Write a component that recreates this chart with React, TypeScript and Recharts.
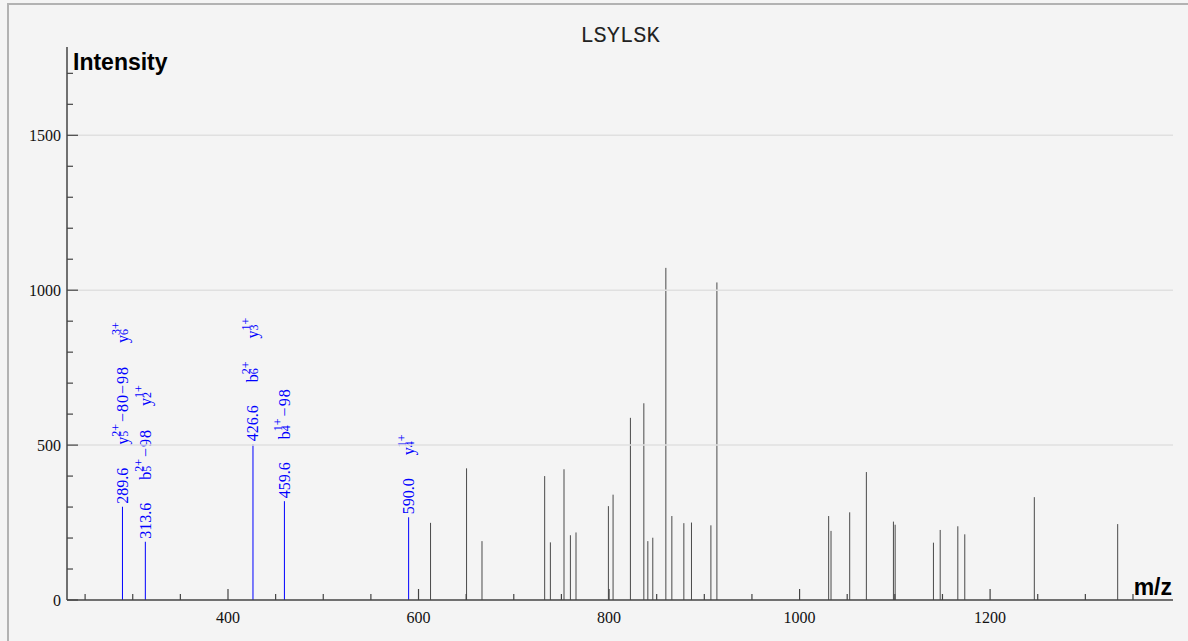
import React from 'react';
import { ComposedChart, Bar, XAxis, YAxis, ReferenceLine } from 'recharts';

// unmatched peaks (m/z, intensity)
const peakMz = [
  613.0, 650.8, 667.0, 732.8, 738.8, 753.1, 759.8, 765.7, 799.7, 804.6, 822.8,
  836.9, 841.1, 846.3, 860.0, 866.3, 878.9, 886.9, 907.3, 913.6, 1030.9, 1033.4,
  1053.0, 1070.5, 1098.9, 1100.7, 1140.9, 1148.0, 1166.5, 1173.8, 1246.8, 1334.3,
];
const peakIntensity = [
  249, 425, 190, 400, 186, 422, 209, 218, 303, 340, 588,
  635, 190, 201, 1072, 271, 248, 250, 241, 1025, 271, 223,
  283, 413, 253, 243, 185, 226, 238, 212, 332, 245,
];

// annotated fragment ions
const ionMz = [289.6, 313.6, 426.6, 459.6, 590.0];
const ionIntensity = [301, 188, 503, 319, 267];
// [ion, subscript, superscript, neutral loss], listed bottom to top
const ionLabels: string[][][] = [
  [['y', '5', '2+', '\u221280\u221298'], ['y', '6', '3+', '']],
  [['b', '5', '2+', '\u221298'], ['y', '2', '1+', '']],
  [['b', '6', '2+', ''], ['y', '3', '1+', '']],
  [['b', '4', '1+', '\u221298']],
  [['y', '4', '1+', '']],
];

const xTicks = [
  250, 300, 350, 400, 450, 500, 550, 600, 650, 700, 750, 800, 850, 900, 950,
  1000, 1050, 1100, 1150, 1200, 1250, 1300, 1350,
];
const xLabelTicks = [400, 600, 800, 1000, 1200];
const yTicks = [0, 100, 200, 300, 400, 500, 600, 700, 800, 900, 1000, 1100, 1200, 1300, 1400, 1500, 1600, 1700];
const yLabelTicks = [0, 500, 1000, 1500];
const gridValues = [500, 1000, 1500];

const data = [
  ...peakMz.map((mz, i) => ({ mz, intensity: peakIntensity[i], ann: -1 })),
  ...ionMz.map((mz, i) => ({ mz, intensity: ionIntensity[i], ann: i })),
].sort((a, b) => a.mz - b.mz);

const SERIF = '"Liberation Serif", "Times New Roman", serif';
const SANS = '"Liberation Sans", Arial, sans-serif';
const MONO = '"Liberation Mono", "Nimbus Mono PS", FreeMono, "DejaVu Sans Mono", monospace';
const BLUE = '#0000ff';
const AXIS = '#444';

// rough glyph advances for the small script digits
const scriptWidth = (s: string, size: number) =>
  s.split('').reduce((w, c) => w + (c === '+' ? 0.564 : 0.5) * size, 0);

function IonLabel({ cx, top, index }: { cx: number; top: number; index: number }) {
  const gap = 23;
  const small = 12;
  let carry = 0;
  const parts: React.ReactNode[] = [];
  ionLabels[index].forEach(([ion, sub, sup, loss], i) => {
    const supW = scriptWidth(sup, small);
    const subW = scriptWidth(sub, small);
    parts.push(
      <tspan key={`i${i}`} dx={gap + carry}>{ion}</tspan>,
      <tspan key={`p${i}`} fontSize={small} dy={-8}>{sup}</tspan>,
      <tspan key={`b${i}`} fontSize={small} dx={-supW} dy={8}>{sub}</tspan>,
    );
    carry = Math.max(supW - subW, 0);
    if (loss) {
      parts.push(
        <tspan key={`l${i}`} dx={carry + 2} letterSpacing={1}>
          {loss}
        </tspan>,
      );
      carry = 0;
    }
  });
  return (
    <text
      transform={`translate(${cx},${top - 3}) rotate(-90)`}
      x={0}
      y={5.5}
      fontFamily={SERIF}
      fontSize={16}
      fill={BLUE}
    >
      <tspan>{ionMz[index].toFixed(1)}</tspan>
      {parts}
    </text>
  );
}

function PeakShape(props: any) {
  const { x, y, width, height, payload } = props;
  const cx = x + width / 2;
  const ann = payload ? payload.ann : -1;
  const color = ann >= 0 ? BLUE : '#4a4a4a';
  return (
    <g>
      <line x1={cx} x2={cx} y1={y} y2={y + height} stroke={color} strokeWidth={1} />
      {ann >= 0 && <IonLabel cx={cx} top={y} index={ann} />}
    </g>
  );
}

function XTick(props: any) {
  const { x, y, payload } = props;
  const major = xLabelTicks.includes(payload.value);
  return (
    <g>
      <line x1={x} x2={x} y1={y} y2={y - (major ? 11 : 6)} stroke={AXIS} strokeWidth={1.2} />
      {major && (
        <text x={x} y={y + 23} textAnchor="middle" fontFamily={SERIF} fontSize={16} fill="#111">
          {payload.value}
        </text>
      )}
    </g>
  );
}

function YTick(props: any) {
  const { x, y, payload } = props;
  const major = yLabelTicks.includes(payload.value);
  return (
    <g>
      <line x1={x} x2={x + (major ? 11 : 6)} y1={y} y2={y} stroke={AXIS} strokeWidth={1.2} />
      {major && (
        <text x={x - 6} y={y + 5.5} textAnchor="end" fontFamily={SERIF} fontSize={16} fill="#111">
          {payload.value}
        </text>
      )}
    </g>
  );
}

export default function App() {
  return (
    <div style={{ position: 'relative', width: 1188, height: 641, background: '#f4f4f4', overflow: 'hidden' }}>
      <style>{'html,body{margin:0;background:#f4f4f4;overflow:hidden}'}</style>
      <div
        style={{
          position: 'absolute',
          left: 7,
          top: 3,
          width: 1179,
          height: 636,
          borderLeft: '2px solid #b2b2b2',
          borderTop: '2px solid #b2b2b2',
        }}
      />
      <div style={{ position: 'absolute', left: 0, top: 0 }}>
        <ComposedChart width={1188} height={641} data={data} margin={{ top: 47, right: 15, bottom: 11, left: 7 }}>
          <XAxis
            dataKey="mz"
            type="number"
            domain={[231, 1392]}
            allowDataOverflow
            ticks={xTicks}
            interval={0}
            tick={<XTick />}
            tickLine={false}
            tickSize={0}
            tickMargin={0}
            height={30}
            axisLine={{ stroke: AXIS, strokeWidth: 1.5 }}
          />
          <YAxis
            type="number"
            domain={[0, 1785]}
            allowDataOverflow
            ticks={yTicks}
            interval={0}
            tick={<YTick />}
            tickLine={false}
            tickSize={0}
            tickMargin={0}
            width={60}
            axisLine={{ stroke: AXIS, strokeWidth: 1.5 }}
          />
          {gridValues.map((v) => (
            <ReferenceLine key={v} y={v} stroke="#e0e0e0" strokeWidth={1.5} />
          ))}
          <Bar dataKey="intensity" barSize={1} shape={<PeakShape />} isAnimationActive={false} />
        </ComposedChart>
      </div>
      <svg
        width={1188}
        height={641}
        style={{ position: 'absolute', left: 0, top: 0, pointerEvents: 'none' }}
      >
        <text x={620} y={42} textAnchor="middle" fontFamily={MONO} fontSize={22} fill="#222">
          LSYLSK
        </text>
        <text x={73} y={70} fontFamily={SANS} fontWeight="bold" fontSize={23} fill="#000">
          Intensity
        </text>
        <text x={1172} y={595} textAnchor="end" fontFamily={SANS} fontWeight="bold" fontSize={23} fill="#000">
          m/z
        </text>
      </svg>
    </div>
  );
}
